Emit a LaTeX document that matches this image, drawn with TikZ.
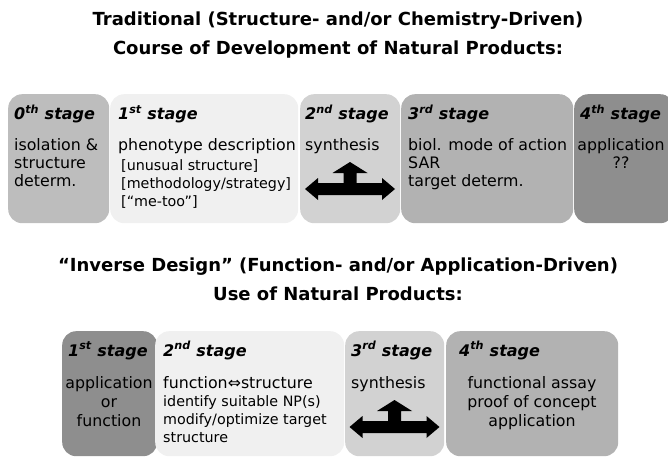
\documentclass[tikz,border=0pt]{standalone}
\usepackage{fontspec}
\setmainfont{DejaVu Sans}
\definecolor{gA}{HTML}{BDBDBD}
\definecolor{gB}{HTML}{F0F0F0}
\definecolor{gC}{HTML}{D2D2D2}
\definecolor{gD}{HTML}{B2B2B2}
\definecolor{gE}{HTML}{8E8E8E}
\tikzset{
  box/.style={rounded corners=14pt, inner sep=0pt, anchor=north west, draw=none},
  title/.style={font=\bfseries\fontsize{18}{21}\selectfont, anchor=base, inner sep=0pt},
  hdr/.style={font=\bfseries\itshape\fontsize{16}{19}\selectfont, anchor=base west, inner sep=0pt},
  body/.style={font=\fontsize{15.8}{18}\selectfont, anchor=base west, inner sep=0pt},
  bodyc/.style={font=\fontsize{15.8}{18}\selectfont, anchor=base, inner sep=0pt},
  small/.style={font=\fontsize{14.3}{18}\selectfont, anchor=base west, inner sep=0pt},
  bigarrow/.pic={
    \fill[black] (-45,0) -- (-32,-11) -- (-32,-6) -- (-6.5,-6) -- (-6.5,-16) -- (-17.5,-16)
      -- (0,-27) -- (17.5,-16) -- (6.5,-16) -- (6.5,-6) -- (32,-6) -- (32,-11) -- (45,0)
      -- (32,11) -- (32,6) -- (-32,6) -- (-32,11) -- cycle;
  }
}
\newcommand{\sst}[2]{#1\textsuperscript{#2}}
\begin{document}
\begin{tikzpicture}[x=1pt,y=-1pt]
\useasboundingbox (0,0) rectangle (668,457);
% ---- top titles
\node[title] (t1) at (338,26) {Traditional (Structure- and/or Chemistry-Driven)};
\node[title] (t2) at (338,55) {Course of Development of Natural Products:};
% ---- top boxes
\node[box, fill=gA, minimum width=101pt, minimum height=129pt] (s0) at (8,94) {};
\node[box, fill=gB, minimum width=188pt, minimum height=129pt] (s1) at (110,94) {};
\node[box, fill=gC, minimum width=100pt, minimum height=129pt] (s2) at (300,94) {};
\node[box, fill=gD, minimum width=172pt, minimum height=129pt] (s3) at (401,94) {};
\node[box, fill=gE, minimum width=100pt, minimum height=129pt] (s4) at (574,94) {};
% top texts
\node[hdr] (h0) at (14,120) {\sst{0}{th} stage};
\node[body] (a0) at (14,150) {isolation \&};
\node[body] (a1) at (14,168) {structure};
\node[body] (a2) at (14,186) {determ.};
\node[hdr] (h1) at (118,120) {\sst{1}{st} stage};
\node[body] (b0) at (118,150) {phenotype description};
\node[small] (b1) at (121,170) {[unusual structure]};
\node[small] (b2) at (121,188) {[methodology/strategy]};
\node[small] (b3) at (121,206) {[“me-too”]};
\node[hdr] (h2) at (305,120) {\sst{2}{nd} stage};
\node[body] (c0) at (305,150) {synthesis};
\pic at (350,189) {bigarrow};
\node[hdr] (h3) at (408,120) {\sst{3}{rd} stage};
\node[body] (d0) at (408,150) {biol. mode of action};
\node[body] (d1) at (408,168) {SAR};
\node[body] (d2) at (408,186) {target determ.};
\node[hdr] (h4) at (580,120) {\sst{4}{th} stage};
\node[bodyc] (e0) at (621,150) {application};
\node[bodyc] (e1) at (621,168) {??};
% ---- bottom titles
\node[title] (t3) at (338,271) {“Inverse Design” (Function- and/or Application-Driven)};
\node[title] (t4) at (338,300) {Use of Natural Products:};
% ---- bottom boxes
\node[box, fill=gE, minimum width=95pt, minimum height=125pt] (r1) at (62,331) {};
\node[box, fill=gB, minimum width=189pt, minimum height=125pt] (r2) at (155,331) {};
\node[box, fill=gC, minimum width=99pt, minimum height=125pt] (r3) at (345,331) {};
\node[box, fill=gD, minimum width=172pt, minimum height=125pt] (r4) at (446,331) {};
% bottom texts
\node[hdr] (k1) at (68,356) {\sst{1}{st} stage};
\node[bodyc] (m0) at (109,388) {application};
\node[bodyc] (m1) at (109,407) {or};
\node[bodyc] (m2) at (109,426) {function};
\node[hdr] (k2) at (163,356) {\sst{2}{nd} stage};
\node[body] (n0) at (163,388) {function⇔structure};
\node[small] (n1) at (163,406) {identify suitable NP(s)};
\node[small] (n2) at (163,424) {modify/optimize target};
\node[small] (n3) at (163,442) {structure};
\node[hdr] (k3) at (351,356) {\sst{3}{rd} stage};
\node[body] (p0) at (351,388) {synthesis};
\pic at (394.5,427) {bigarrow};
\node[hdr] (k4) at (459,356) {\sst{4}{th} stage};
\node[bodyc] (q0) at (532,388) {functional assay};
\node[bodyc] (q1) at (532,407) {proof of concept};
\node[bodyc] (q2) at (532,426) {application};
\end{tikzpicture}
\end{document}
